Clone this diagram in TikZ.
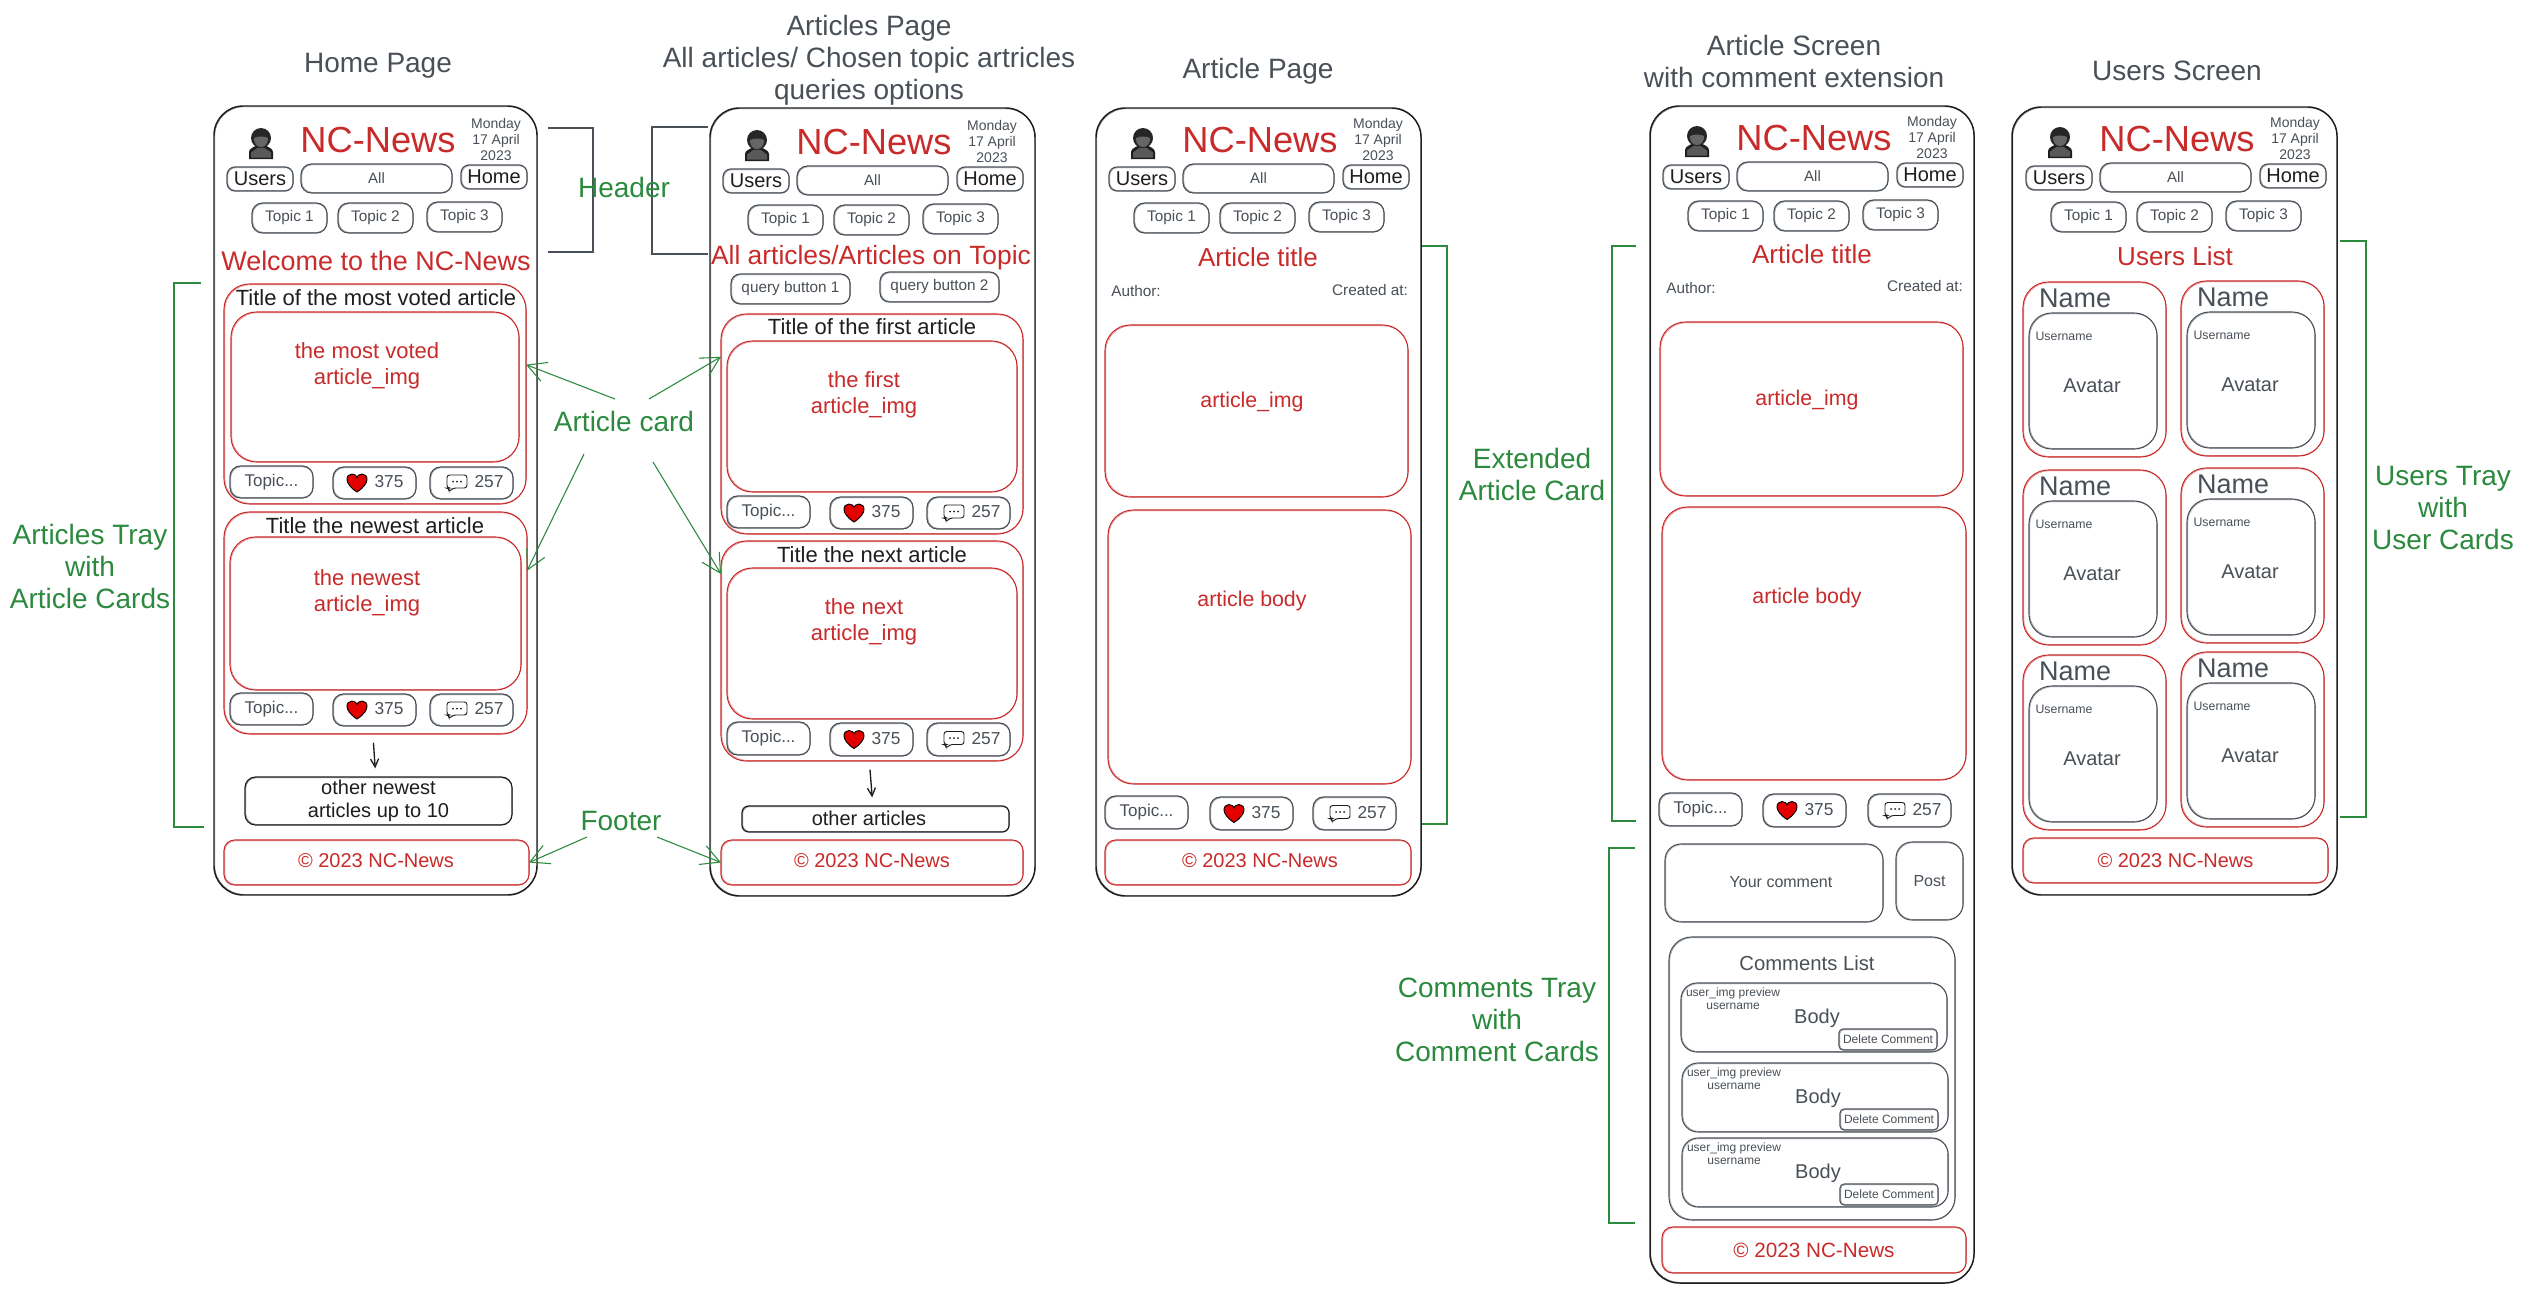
\documentclass[tikz,border=0pt]{standalone}
\usepackage{fontspec}
\setmainfont{Liberation Sans}
\usetikzlibrary{arrows.meta}
\definecolor{cgrey}{HTML}{495057}
\definecolor{cred}{HTML}{C92A2A}
\definecolor{cgreen}{HTML}{2B8A3E}
\definecolor{cblack}{HTML}{1E1E1E}
\newcommand{\fpt}[2]{\fontsize{#1pt}{#2pt}\selectfont}
\tikzset{
  every node/.style={inner sep=0pt,outer sep=0pt,align=center},
  phonebox/.style={draw=cblack,line width=1.1pt,rounded corners=22pt},
  redcard/.style={draw=cred,line width=.8pt,rounded corners=19pt},
  redfoot/.style={draw=cred,line width=.8pt,rounded corners=8pt},
  blackbox/.style={draw=cblack,line width=.9pt,rounded corners=8pt},
  btnbox/.style={draw=cgrey,line width=.9pt,rounded corners=6pt},
  softbox/.style={draw=cgrey,line width=.8pt,rounded corners=12pt},
  traybox/.style={draw=cgrey,line width=.8pt,rounded corners=17pt},
  delbox/.style={draw=cgrey,line width=.8pt,rounded corners=3pt},
  tgrey/.style={text=cgrey},
  tred/.style={text=cred},
  tblack/.style={text=cblack},
  tgreen/.style={text=cgreen,font=\fpt{21}{24}},
  pagehead/.style={text=cgrey,font=\fpt{21}{24}},
  greenbr/.style={draw=cgreen,line width=.8pt},
  greybr/.style={draw=cgrey,line width=.9pt},
  greenarrow/.style={draw=cgreen,line width=.8pt,-{Straight Barb[length=14pt,width=15pt]}},
  blackarrow/.style={draw=cblack,line width=1pt,-{Straight Barb[length=6pt,width=6pt]},shorten <=6.5pt,shorten >=6.5pt},
}
% style, name, x1, y1, x2, y2, text
\newcommand{\skbox}[7]{%
  \pgfmathsetmacro{\skCx}{(#3+#5)/2}%
  \pgfmathsetmacro{\skCy}{(#4+#6)/2}%
  \pgfmathsetmacro{\skW}{(#5-(#3))*.75}%
  \pgfmathsetmacro{\skH}{(#6-(#4))*.75}%
  \draw[#1,line width=.35pt,opacity=.6] (#3+.8,#4+.8) rectangle (#5+.4,#6-.7);
  \node[#1,minimum width=\skW pt,minimum height=\skH pt] (#2) at (\skCx,\skCy) {#7};
}
\newcommand{\avatarpic}[2]{%
  \fill[cblack] (#1-12,#2+15) -- (#1-12,#2+8) .. controls (#1-12,#2+4) and (#1-6,#2+3) .. (#1-4,#2+1) -- (#1+4,#2+1) .. controls (#1+6,#2+3) and (#1+12,#2+4) .. (#1+12,#2+8) -- (#1+12,#2+15) -- cycle;
  \fill[black!65] (#1-10,#2+13.5) -- (#1-10,#2+8.5) -- (#1-3,#2+3.5) -- (#1+3,#2+3.5) -- (#1+10,#2+8.5) -- (#1+10,#2+13.5) -- cycle;
  \fill[black!85] (#1,#2-6) circle[radius=10];
  \fill[black!60] (#1-7,#2-6) .. controls (#1-3,#2-8) and (#1+3,#2-8) .. (#1+7,#2-6) .. controls (#1+7,#2+1) and (#1+3,#2+3) .. (#1,#2+3) .. controls (#1-3,#2+3) and (#1-7,#2+1) .. (#1-7,#2-6) -- cycle;
}
\newcommand{\heartpic}[2]{%
  \draw[fill=red!90!black,draw=black,line width=.7pt] (#1,#2+10) .. controls (#1-14,#2+1) and (#1-11,#2-8) .. (#1-5,#2-8) .. controls (#1-2,#2-8) and (#1,#2-6) .. (#1,#2-4.5) .. controls (#1,#2-6) and (#1+2,#2-8) .. (#1+5,#2-8) .. controls (#1+11,#2-8) and (#1+14,#2+1) .. (#1,#2+10) -- cycle;
}
\newcommand{\commentpic}[2]{%
  \draw[cblack,line width=.7pt,fill=white,rounded corners=2pt] (#1-10,#2-7) -- (#1+10,#2-7) -- (#1+10,#2+6) -- (#1-4,#2+6) -- (#1-8,#2+10) -- (#1-8,#2+6) -- (#1-10,#2+6) -- cycle;
  \fill[cblack] (#1-4,#2-.5) circle[radius=1] (#1,#2-.5) circle[radius=1] (#1+4,#2-.5) circle[radius=1];
}
% prefix, ox, oy
\newcommand{\headerset}[3]{%
  \avatarpic{#2+47}{#3+38}
  \node[tred,font=\fpt{27.2}{30}] (#1logo) at (#2+164,#3+34) {NC-News};
  \node[tgrey,font=\fpt{10.5}{12}] (#1date) at (#2+282,#3+33) {Monday\\17 April\\2023};
  \skbox{btnbox}{#1users}{#2+13}{#3+61}{#2+79}{#3+85}{\textcolor{cblack}{\fpt{15}{17}Users}}
  \skbox{btnbox,rounded corners=8pt}{#1all}{#2+87}{#3+58}{#2+238}{#3+87}{\textcolor{cgrey}{\fpt{11.25}{13}All}}
  \skbox{btnbox}{#1home}{#2+247}{#3+59}{#2+313}{#3+83}{\textcolor{cblack}{\fpt{15}{17}Home}}
  \skbox{btnbox,rounded corners=8pt}{#1topa}{#2+38}{#3+97}{#2+113}{#3+127}{\textcolor{cgrey}{\fpt{11.5}{13}Topic 1}}
  \skbox{btnbox,rounded corners=8pt}{#1topb}{#2+124}{#3+97}{#2+199}{#3+127}{\textcolor{cgrey}{\fpt{11.5}{13}Topic 2}}
  \skbox{btnbox,rounded corners=8pt}{#1topc}{#2+213}{#3+96}{#2+288}{#3+126}{\textcolor{cgrey}{\fpt{11.5}{13}Topic 3}}
}
% prefix, y1, y2, xTopic, xHeart, xComment
\newcommand{\buttonrow}[6]{%
  \pgfmathsetmacro{\brY}{(#2+#3)/2}%
  \skbox{btnbox,rounded corners=8pt}{#1topic}{#4}{#2}{#4+83}{#3}{\textcolor{cgrey}{\fpt{12.75}{14}Topic...}}
  \skbox{btnbox,rounded corners=8pt}{#1like}{#5}{#2+1}{#5+83}{#3+1}{}
  \skbox{btnbox,rounded corners=8pt}{#1talk}{#6}{#2+1}{#6+83}{#3+1}{}
  \heartpic{#5+24}{\brY}
  \node[tgrey,font=\fpt{13}{15}] (#1likes) at (#5+56,\brY) {375};
  \commentpic{#6+27}{\brY}
  \node[tgrey,font=\fpt{13}{15}] (#1talks) at (#6+59,\brY) {257};
}
% prefix, dx, y
\newcommand{\commentrow}[3]{%
  \skbox{softbox}{#1row}{1681+#2}{#3}{1947+#2}{#3+69}{}
  \node[tgrey,font=\fpt{9}{10}] (#1img) at (1733+#2,#3+10) {user\_img preview};
  \node[tgrey,font=\fpt{9}{10}] (#1nm) at (1733+#2,#3+23) {username};
  \node[tgrey,font=\fpt{15}{17}] (#1body) at (1817+#2,#3+35) {Body};
  \skbox{delbox}{#1del}{1839+#2}{#3+46}{1937+#2}{#3+67}{\textcolor{cgrey}{\fpt{9}{10}Delete Comment}}
}
% prefix, x, y
\newcommand{\usercard}[3]{%
  \skbox{redcard}{#1card}{#2}{#3}{#2+143}{#3+175}{}
  \node[tgrey,font=\fpt{20.25}{22}] (#1name) at (#2+52,#3+16) {Name};
  \skbox{softbox,rounded corners=17pt}{#1inner}{#2+6}{#3+31}{#2+134}{#3+167}{}
  \node[tgrey,font=\fpt{9.25}{10}] (#1user) at (#2+41,#3+54) {Username};
  \node[tgrey,font=\fpt{15}{17}] (#1ava) at (#2+69,#3+104) {Avatar};
}
\begin{document}
\begin{tikzpicture}[x=.75pt,y=-.75pt]
\useasboundingbox (0,0) rectangle (2523,1293);
\fill[white] (0,0) rectangle (2523,1293);

% Page headings
\node[pagehead] (headhome) at (378,66) {Home Page};
\node[pagehead] (headarts) at (869,60) {Articles Page\\All articles/ Chosen topic artricles\\queries options};
\node[pagehead] (headart) at (1258,71) {Article Page};
\node[pagehead] (headscr) at (1794,61) {Article Screen\\with comment extension};
\node[pagehead] (headusr) at (2177,71) {Users Screen};

% Phones
\skbox{phonebox}{phonea}{214}{106}{537}{895}{}
\skbox{phonebox}{phoneb}{710}{108}{1035}{896}{}
\skbox{phonebox}{phonec}{1096}{108}{1421}{896}{}
\skbox{phonebox}{phoned}{1650}{106}{1974}{1283}{}
\skbox{phonebox}{phonee}{2012}{107}{2337}{895}{}

% Headers
\headerset{ha}{214}{106}
\headerset{hb}{710}{108}
\headerset{hc}{1096}{106}
\headerset{hd}{1650}{104}
\headerset{he}{2013}{105}

% Home page
\node[tred,font=\fpt{20.2}{24}] (wel) at (376,260.5) {Welcome to the NC-News};
\skbox{redcard}{acard}{224}{284}{526}{504}{}
\node[tblack,font=\fpt{16.5}{19}] (atitle) at (376,298) {Title of the most voted article};
\skbox{redcard}{aimg}{231}{312}{519}{462}{}
\node[tred,font=\fpt{16.5}{19.5}] (aimgt) at (367,366) {the most voted\\article\_img};
\buttonrow{ar}{466}{498}{230}{333}{430}
\skbox{redcard}{bcard}{224}{512}{527}{734}{}
\node[tblack,font=\fpt{16.5}{19}] (btitle) at (375,526) {Title the newest article};
\skbox{redcard}{bimg}{230}{537}{521}{690}{}
\node[tred,font=\fpt{16.5}{19.5}] (bimgt) at (367,593) {the newest\\article\_img};
\buttonrow{br}{693}{725}{230}{333}{430}
\skbox{blackbox,text=cblack,font=\fpt{15}{17}}{aother}{245}{777}{512}{825}{other newest\\articles up to 10}
\draw[blackarrow] ([xshift=-2pt]bcard.south) -- ([xshift=-2pt]aother.north);
\skbox{redfoot}{afoot}{224}{840}{529}{885}{}
\node[tred,font=\fpt{15}{17}] (afoott) at (376,861) {© 2023 NC-News};

% Articles page
\node[tred,font=\fpt{19.8}{24}] (allt) at (871,258) {All articles/Articles on Topic};
\skbox{btnbox,rounded corners=7pt}{qa}{731}{274}{850}{304}{\textcolor{cgrey}{\fpt{11.5}{13}query button 1}}
\skbox{btnbox,rounded corners=7pt}{qb}{880}{272}{999}{302}{\textcolor{cgrey}{\fpt{11.5}{13}query button 2}}
\skbox{redcard}{ccard}{721}{314}{1023}{534}{}
\node[tblack,font=\fpt{16.5}{19}] (ctitle) at (872,327) {Title of the first article};
\skbox{redcard}{cimg}{727}{341}{1017}{492}{}
\node[tred,font=\fpt{16.5}{19.5}] (cimgt) at (864,395) {the first\\article\_img};
\buttonrow{cr}{496}{528}{727}{830}{927}
\skbox{redcard}{dcard}{721}{541}{1023}{761}{}
\node[tblack,font=\fpt{16.5}{19}] (dtitle) at (872,555) {Title the next article};
\skbox{redcard}{dimg}{727}{568}{1017}{719}{}
\node[tred,font=\fpt{16.5}{19.5}] (dimgt) at (864,622) {the next\\article\_img};
\buttonrow{dr}{722}{755}{727}{830}{927}
\skbox{blackbox,rounded corners=5pt}{bother}{742}{806}{1009}{832}{}
\node[tblack,font=\fpt{15}{17}] (bothert) at (869,818) {other articles};
\draw[blackarrow] ([xshift=-2pt]dcard.south) -- ([xshift=-2pt]bother.north);
\skbox{redfoot}{bfoot}{721}{840}{1023}{885}{}
\node[tred,font=\fpt{15}{17}] (bfoott) at (872,861) {© 2023 NC-News};

% Article page
\node[tred,font=\fpt{19.5}{22}] (etitle) at (1258,257) {Article title};
\node[tgrey,font=\fpt{11.5}{13}] (eauth) at (1136,291) {Author:};
\node[tgrey,font=\fpt{11.5}{13}] (ecrea) at (1370,290) {Created at:};
\skbox{redcard}{eimg}{1105}{325}{1408}{497}{}
\node[tred,font=\fpt{16}{18}] (eimgt) at (1252,402) {article\_img};
\skbox{redcard}{ebody}{1108}{510}{1411}{784}{}
\node[tred,font=\fpt{16}{18}] (ebodyt) at (1252,601) {article body};
\buttonrow{er}{796}{829}{1105}{1210}{1313}
\skbox{redfoot}{efoot}{1105}{840}{1411}{885}{}
\node[tred,font=\fpt{15}{17}] (efoott) at (1260,861) {© 2023 NC-News};

% Article screen
\node[tred,font=\fpt{19.5}{22}] (ftitle) at (1812,254) {Article title};
\node[tgrey,font=\fpt{11.5}{13}] (fauth) at (1691,288) {Author:};
\node[tgrey,font=\fpt{11.5}{13}] (fcrea) at (1925,286) {Created at:};
\skbox{redcard}{fimg}{1660}{322}{1963}{496}{}
\node[tred,font=\fpt{16}{18}] (fimgt) at (1807,400) {article\_img};
\skbox{redcard}{fbody}{1662}{507}{1966}{780}{}
\node[tred,font=\fpt{16}{18}] (fbodyt) at (1807,598) {article body};
\buttonrow{fr}{793}{826}{1659}{1763}{1868}
\skbox{softbox}{yours}{1665}{844}{1883}{922}{}
\node[tgrey,font=\fpt{12}{14}] (yourst) at (1781,882) {Your comment};
\skbox{softbox}{post}{1896}{842}{1963}{920}{\textcolor{cgrey}{\fpt{12}{14}Post}}
\skbox{traybox}{tray}{1669}{937}{1955}{1220}{}
\node[tgrey,font=\fpt{15.2}{17}] (trayt) at (1807,963) {Comments List};
\commentrow{ca}{0}{983}
\commentrow{cb}{1}{1063}
\commentrow{cc}{1}{1138}
\skbox{redfoot}{ffoot}{1662}{1227}{1966}{1273}{\textcolor{cred}{\fpt{15.5}{17}© 2023 NC-News}}

% Users screen
\node[tred,font=\fpt{19.5}{22}] (gtitle) at (2175,256) {Users List};
\usercard{ua}{2023}{282}
\usercard{ub}{2181}{281}
\usercard{uc}{2023}{470}
\usercard{ud}{2181}{468}
\usercard{ue}{2023}{655}
\usercard{uf}{2181}{652}
\skbox{redfoot}{gfoot}{2023}{838}{2328}{883}{\textcolor{cred}{\fpt{15}{17}© 2023 NC-News}}

% Brackets
\draw[greybr] (548,128) -- (593,128) -- (593,252) -- (548,252);
\draw[greybr] (708,127) -- (652,127) -- (652,254) -- (708,254);
\draw[greenbr] (201,283) -- (174,283) -- (174,827) -- (204,827);
\draw[greenbr] (1422,246) -- (1447,246) -- (1447,824) -- (1422,824);
\draw[greenbr] (1636,246) -- (1612,246) -- (1612,821) -- (1636,821);
\draw[greenbr] (1635,848) -- (1609,848) -- (1609,1223) -- (1635,1223);
\draw[greenbr] (2340,241) -- (2366,241) -- (2366,817) -- (2340,817);

% Green labels
\node[tgreen] (lhead) at (624,187) {Header};
\node[tgreen] (lcard) at (624,421) {Article card};
\node[tgreen] (lfoot) at (621,821) {Footer};
\node[tgreen] (ltray) at (90,566) {Articles Tray\\with\\Article Cards};
\node[tgreen] (lext) at (1532,474) {Extended\\Article Card};
\node[tgreen] (lcom) at (1497,1020) {Comments Tray\\with\\Comment Cards};
\node[tgreen] (lusr) at (2443,508) {Users Tray\\with\\User Cards};

% Green arrows
\coordinate (sa) at (615,399);
\coordinate (sb) at (584,454);
\coordinate (sc) at (649,399);
\coordinate (sd) at (653,462);
\coordinate (se) at (587,837);
\coordinate (sf) at (657,837);
\draw[greenarrow] (sa) -- (acard.11.5);
\draw[greenarrow] (sb) -- (bcard.19.3);
\draw[greenarrow] (sc) -- (ccard.156.7);
\draw[greenarrow] (sd) -- (dcard.153.6);
\draw[greenarrow] (se) -- (afoot.east);
\draw[greenarrow] (sf) -- (bfoot.west);
\end{tikzpicture}
\end{document}
